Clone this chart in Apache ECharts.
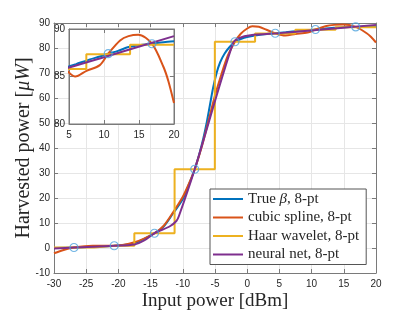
<!DOCTYPE html>
<html>
<head>
<meta charset="utf-8">
<script src="https://cdn.jsdelivr.net/npm/echarts@6/dist/echarts.min.js"></script>
<style>
html,body{margin:0;padding:0;background:#fff;}
#chart{width:415px;height:312px;}
</style>
</head>
<body>
<div id="chart"></div>
<script>
// ---- data ----
const sampleX = [-26.9, -20.65, -14.4, -8.15, -1.9, 4.35, 10.6, 16.85];
const sampleY = [0.2, 0.9, 5.9, 31.5, 82.5, 85.9, 87.4, 88.45];

const trueX = [-30, -27, -24, -20.65, -17.5, -14.4, -13, -11.5, -10, -9.4, -8.15, -7.5, -6.8, -6.3, -5.8, -5.3, -4.75, -4.2, -3.5, -2.7, -1.9, -1, 0, 2, 4.35, 6, 8, 9.4, 10.6, 12, 13.5, 15, 16.85, 18.5, 20];
const trueY = [0, 0.2, 0.5, 0.9, 1.9, 5.9, 8.5, 13.9, 19.5, 23.2, 31.5, 37, 44, 50, 57, 64, 70, 74.3, 77.8, 80.5, 82.5, 83.6, 84.4, 85.3, 85.9, 86.3, 86.8, 87.1, 87.4, 87.7, 88.1, 88.3, 88.45, 88.6, 88.7];

const splineX = [-30, -28.5, -26.9, -24, -20.65, -17.5, -14.4, -13, -11.5, -10, -9, -8.15, -7, -6, -5, -4, -3, -1.9, -1, 0, 0.8, 1.8, 3, 4.35, 5.9, 7.5, 9.4, 10.6, 12.3, 13.5, 14.9, 16.85, 18.5, 19.2, 20];
const splineY = [-2.1, -0.8, 0.2, 0.9, 0.9, 2.3, 5.9, 8.8, 14.3, 20.5, 26, 31.5, 41, 51, 61, 69.5, 77, 82.5, 85.7, 87.8, 88.7, 88.5, 87.3, 85.9, 85.0, 85.6, 86.2, 87.4, 88.8, 89.25, 89.4, 88.45, 86.0, 84.5, 82.2];

const haarX = [-30, -26.9, -20.65, -14.4, -8.15, -1.9, 4.35, 10.6, 16.85, 20];
const haarY = [0.2, 0.2, 0.9, 5.9, 31.5, 82.5, 85.8, 87.35, 88.35, 88.35];

const nnX = [-30, -26.9, -20.65, -17.5, -16, -14.4, -12, -11, -10.6, -8.15, -2.2, -1.2, 0.5, 5, 9.4, 20];
const nnY = [-0.2, 0.2, 0.9, 1.4, 3, 5.9, 8.7, 10.8, 12.8, 31.5, 82, 84, 85.1, 85.95, 86.9, 89.25];

const xTicks = [-30, -25, -20, -15, -10, -5, 0, 5, 10, 15, 20];
const yTicks = [-10, 0, 10, 20, 30, 40, 50, 60, 70, 80, 90];
const insetXTicks = [5, 10, 15, 20];
const insetYTicks = [80, 85, 90];

const names = ['True β, 8-pt', 'cubic spline, 8-pt', 'Haar wavelet, 8-pt', 'neural net, 8-pt'];
const colors = ['#0072BD', '#D95319', '#EDB120', '#7E2F8E'];

// ---- build ----
const zip = (xs, ys) => xs.map((x, i) => [x, ys[i]]);
const axisCol = '#7a7a7a';
const labelCol = '#262626';
const sans = 'Liberation Sans, Arial, sans-serif';
const serif = 'Liberation Serif, Times New Roman, serif';

function mkX(gi, min, max, iv, pos, showLabel, z) {
  return {
    type: 'value', gridIndex: gi, min: min, max: max, interval: iv, position: pos,
    zlevel: z,
    axisLine: {show: true, onZero: false, lineStyle: {color: axisCol, width: 1}},
    axisTick: {show: true, inside: true, length: 4, lineStyle: {color: axisCol}},
    axisLabel: {show: showLabel, color: labelCol, fontFamily: sans, fontSize: 10, margin: 6},
    splitLine: {show: showLabel, lineStyle: {color: '#e6e6e6', width: 1}}
  };
}
function mkY(gi, min, max, iv, pos, showLabel, z) {
  return {
    type: 'value', gridIndex: gi, min: min, max: max, interval: iv, position: pos,
    zlevel: z,
    axisLine: {show: true, onZero: false, lineStyle: {color: axisCol, width: 1}},
    axisTick: {show: true, inside: true, length: 4, lineStyle: {color: axisCol}},
    axisLabel: {show: showLabel, color: labelCol, fontFamily: sans, fontSize: 10, margin: 4},
    splitLine: {show: showLabel, lineStyle: {color: '#e6e6e6', width: 1}}
  };
}

const xAxes = [
  Object.assign(mkX(0, xTicks[0], xTicks[xTicks.length-1], 5, 'bottom', true, 0), {
    name: 'Input power [dBm]', nameLocation: 'middle', nameGap: 19, nameMoveOverlap: false,
    nameTextStyle: {fontFamily: serif, fontSize: 19, color: labelCol}
  }),
  mkX(0, xTicks[0], xTicks[xTicks.length-1], 5, 'top', false, 0),
  mkX(1, insetXTicks[0], insetXTicks[insetXTicks.length-1], 5, 'bottom', true, 1),
  mkX(1, insetXTicks[0], insetXTicks[insetXTicks.length-1], 5, 'top', false, 1)
];
const yAxes = [
  Object.assign(mkY(0, yTicks[0], yTicks[yTicks.length-1], 10, 'left', true, 0), {
    name: 'Harvested power [{i|μW}]', nameLocation: 'middle', nameGap: 20, nameMoveOverlap: false,
    nameTextStyle: {fontFamily: serif, fontSize: 20, color: labelCol,
      rich: {i: {fontFamily: serif, fontStyle: 'italic', fontSize: 20, color: labelCol}}}
  }),
  mkY(0, yTicks[0], yTicks[yTicks.length-1], 10, 'right', false, 0),
  mkY(1, insetYTicks[0], insetYTicks[insetYTicks.length-1], 5, 'left', true, 1),
  mkY(1, insetYTicks[0], insetYTicks[insetYTicks.length-1], 5, 'right', false, 1)
];

const curves = [zip(trueX, trueY), zip(splineX, splineY), zip(haarX, haarY), zip(nnX, nnY)];
const series = [];
function addCurves(xi, yi, zl) {
  curves.forEach((d, i) => {
    series.push({
      name: names[i], type: 'line', xAxisIndex: xi, yAxisIndex: yi, data: d, zlevel: zl,
      showSymbol: false, symbol: 'none', clip: true,
      smooth: i === 2 ? false : 0.3,
      step: i === 2 ? 'middle' : false,
      lineStyle: {color: colors[i], width: 2}, itemStyle: {color: colors[i]},
      z: 2 + i
    });
  });
  series.push({
    name: 'samples', type: 'scatter', xAxisIndex: xi, yAxisIndex: yi, data: zip(sampleX, sampleY), zlevel: zl,
    symbol: 'circle', symbolSize: 8, clip: true,
    itemStyle: {color: 'rgba(0,0,0,0)', borderColor: '#4DA3DD', borderWidth: 1.2}, z: 10
  });
}
addCurves(0, 0, 0);
addCurves(2, 2, 1);

const chart = echarts.init(document.getElementById('chart'), null, {renderer: 'canvas'});
chart.setOption({
  animation: false,
  backgroundColor: '#fff',
  grid: [
    {left: 54, right: 39, top: 23, bottom: 39, show: false, containLabel: false, outerBoundsMode: 'none'},
    {left: 69, top: 29, width: 105, height: 95, show: true, backgroundColor: '#fff',
     borderColor: axisCol, borderWidth: 1, zlevel: 1, containLabel: false, outerBoundsMode: 'none'}
  ],
  xAxis: xAxes,
  yAxis: yAxes,
  legend: {
    data: names, orient: 'vertical', left: 210, top: 189,
    padding: [2, 7, 2, 3], itemGap: 2.5, itemWidth: 30, itemHeight: 2, itemTextGap: 4,
    icon: 'rect', backgroundColor: '#fff', borderColor: '#555', borderWidth: 1,
    zlevel: 2,
    textStyle: {fontFamily: serif, fontSize: 15, color: labelCol, lineHeight: 16,
      rich: {i: {fontFamily: serif, fontStyle: 'italic', fontSize: 15, color: labelCol}}},
    formatter: n => n.replace('β', '{i|β}')
  },
  series: series
});
</script>
</body>
</html>
